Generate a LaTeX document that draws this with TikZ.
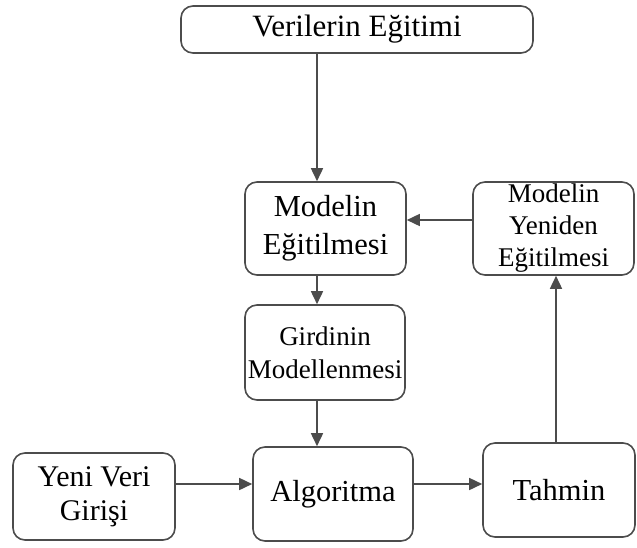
\documentclass[tikz,border=0pt]{standalone}
\usepackage{fontspec}
\setmainfont{Liberation Serif}
\usetikzlibrary{arrows.meta}
\begin{document}
\begin{tikzpicture}[x=1pt,y=-1pt,
  box/.style={draw=black!70, line width=1.6pt, rounded corners=12pt,
    align=center, inner sep=0pt, text=black, fill=white},
  big/.style={font=\fontsize{30.5}{38}\selectfont},
  mid/.style={font=\fontsize{30}{34}\selectfont},
  small/.style={font=\fontsize{27}{33}\selectfont},
  tight/.style={font=\fontsize{27}{32}\selectfont},
  arr/.style={draw=black!70, line width=1.6pt,
    -{Triangle[length=13pt,width=12pt]}}]
\useasboundingbox (0,0) rectangle (637,547);

% process boxes
\node[box, font=\fontsize{31}{38}\selectfont, minimum width=352pt, minimum height=47pt] (veri) at (357,29.5) {Verilerin Eğitimi};
\node[box, big, minimum width=161pt, minimum height=93pt] (egit) at (325.5,228.5) {Modelin\\Eğitilmesi};
\node[box, tight, minimum width=161pt, minimum height=93pt] (yeniden) at (553.5,228.5) {Modelin\\Yeniden\\Eğitilmesi};
\node[box, small, minimum width=160pt, minimum height=95pt] (girdi) at (325,352.5) {Girdinin\\Modellenmesi};
\node[box, mid, minimum width=162pt, minimum height=87pt] (yeni) at (94,496.5) {Yeni Veri\\Girişi};
\node[box, big, minimum width=160pt, minimum height=94pt] (algo) at (333,494) {Algoritma};
\node[box, big, minimum width=152pt, minimum height=94pt] (tahmin) at (559,490) {Tahmin};

% guide lines for the connectors
\coordinate (spine) at (317,0);
\coordinate (back) at (556,0);
\coordinate (loop) at (0,220);
\coordinate (feed) at (0,484);

% connectors
\draw[arr] (veri.south -| spine) -- (egit.north -| spine);
\draw[arr] (egit.south -| spine) -- (girdi.north -| spine);
\draw[arr] (girdi.south -| spine) -- (algo.north -| spine);
\draw[arr] (yeniden.west |- loop) -- (egit.east |- loop);
\draw[arr] (yeni.east |- feed) -- (algo.west |- feed);
\draw[arr] (algo.east |- feed) -- (tahmin.west |- feed);
\draw[arr] (tahmin.north -| back) -- (yeniden.south -| back);
\end{tikzpicture}
\end{document}
